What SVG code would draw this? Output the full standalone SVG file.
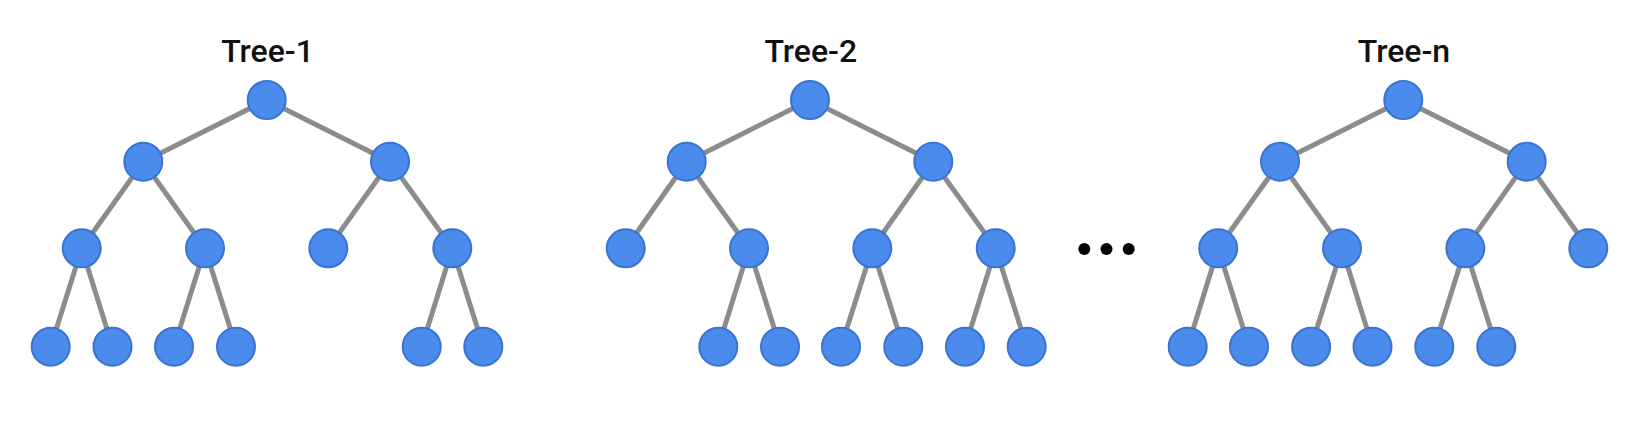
<svg xmlns="http://www.w3.org/2000/svg" width="1651" height="442" viewBox="0 0 1651 442">
<style>
.e{stroke:#8c8c8c;stroke-width:5;fill:none}
.n{fill:#4a8bec;stroke:#3a73d2;stroke-width:2}
.t{font-family:Roboto,"Liberation Sans",sans-serif;font-size:32px;font-weight:500;fill:#111;text-anchor:middle}
.d{fill:#000}
</style>
<rect width="1651" height="442" fill="#fff"/>
<g id="connectors">
<!-- Tree-1 -->
<path class="e" d="M266.7,100L143.3,161.7M266.7,100L390,161.7M143.3,161.7L81.7,248.3M143.3,161.7L205,248.3M390,161.7L328.3,248.3M390,161.7L452.3,248.3M81.7,248.3L50.7,346.7M81.7,248.3L112.5,346.7M205,248.3L174,346.7M205,248.3L236,346.7M452.3,248.3L421.7,346.7M452.3,248.3L483.3,346.7"/>
<!-- Tree-2 -->
<path class="e" d="M810,100L686.7,161.7M810,100L933.3,161.7M686.7,161.7L625.7,248.3M686.7,161.7L749,248.3M933.3,161.7L872.3,248.3M933.3,161.7L995.7,248.3M749,248.3L718.3,346.7M749,248.3L780,346.7M872.3,248.3L841,346.7M872.3,248.3L903.3,346.7M995.7,248.3L965,346.7M995.7,248.3L1026.7,346.7"/>
<!-- Tree-n -->
<path class="e" d="M1403.3,100L1280,161.7M1403.3,100L1526.7,161.7M1280,161.7L1218.2,248.3M1280,161.7L1342,248.3M1526.7,161.7L1465.3,248.3M1526.7,161.7L1588.3,248.3M1218.2,248.3L1187.7,346.7M1218.2,248.3L1249,346.7M1342,248.3L1311.1,346.7M1342,248.3L1372.5,346.7M1465.3,248.3L1434.3,346.7M1465.3,248.3L1496.3,346.7"/>
</g>
<g id="tree-1">
<text class="t" x="267.5" y="62">Tree-1</text>
<circle class="n" cx="266.7" cy="100" r="19"/>
<circle class="n" cx="143.3" cy="161.7" r="19"/>
<circle class="n" cx="390" cy="161.7" r="19"/>
<circle class="n" cx="81.7" cy="248.3" r="19"/>
<circle class="n" cx="205" cy="248.3" r="19"/>
<circle class="n" cx="328.3" cy="248.3" r="19"/>
<circle class="n" cx="452.3" cy="248.3" r="19"/>
<circle class="n" cx="50.7" cy="346.7" r="19"/>
<circle class="n" cx="112.5" cy="346.7" r="19"/>
<circle class="n" cx="174" cy="346.7" r="19"/>
<circle class="n" cx="236" cy="346.7" r="19"/>
<circle class="n" cx="421.7" cy="346.7" r="19"/>
<circle class="n" cx="483.3" cy="346.7" r="19"/>
</g>
<g id="tree-2">
<text class="t" x="810.8" y="62">Tree-2</text>
<circle class="n" cx="810" cy="100" r="19"/>
<circle class="n" cx="686.7" cy="161.7" r="19"/>
<circle class="n" cx="933.3" cy="161.7" r="19"/>
<circle class="n" cx="625.7" cy="248.3" r="19"/>
<circle class="n" cx="749" cy="248.3" r="19"/>
<circle class="n" cx="872.3" cy="248.3" r="19"/>
<circle class="n" cx="995.7" cy="248.3" r="19"/>
<circle class="n" cx="718.3" cy="346.7" r="19"/>
<circle class="n" cx="780" cy="346.7" r="19"/>
<circle class="n" cx="841" cy="346.7" r="19"/>
<circle class="n" cx="903.3" cy="346.7" r="19"/>
<circle class="n" cx="965" cy="346.7" r="19"/>
<circle class="n" cx="1026.7" cy="346.7" r="19"/>
</g>
<g id="ellipsis">
<circle class="d" cx="1084.3" cy="249" r="6"/>
<circle class="d" cx="1106.5" cy="249" r="6"/>
<circle class="d" cx="1128.7" cy="249" r="6"/>
</g>
<g id="tree-n">
<text class="t" x="1404" y="62">Tree-n</text>
<circle class="n" cx="1403.3" cy="100" r="19"/>
<circle class="n" cx="1280" cy="161.7" r="19"/>
<circle class="n" cx="1526.7" cy="161.7" r="19"/>
<circle class="n" cx="1218.2" cy="248.3" r="19"/>
<circle class="n" cx="1342" cy="248.3" r="19"/>
<circle class="n" cx="1465.3" cy="248.3" r="19"/>
<circle class="n" cx="1588.3" cy="248.3" r="19"/>
<circle class="n" cx="1187.7" cy="346.7" r="19"/>
<circle class="n" cx="1249" cy="346.7" r="19"/>
<circle class="n" cx="1311.1" cy="346.7" r="19"/>
<circle class="n" cx="1372.5" cy="346.7" r="19"/>
<circle class="n" cx="1434.3" cy="346.7" r="19"/>
<circle class="n" cx="1496.3" cy="346.7" r="19"/>
</g>
</svg>
